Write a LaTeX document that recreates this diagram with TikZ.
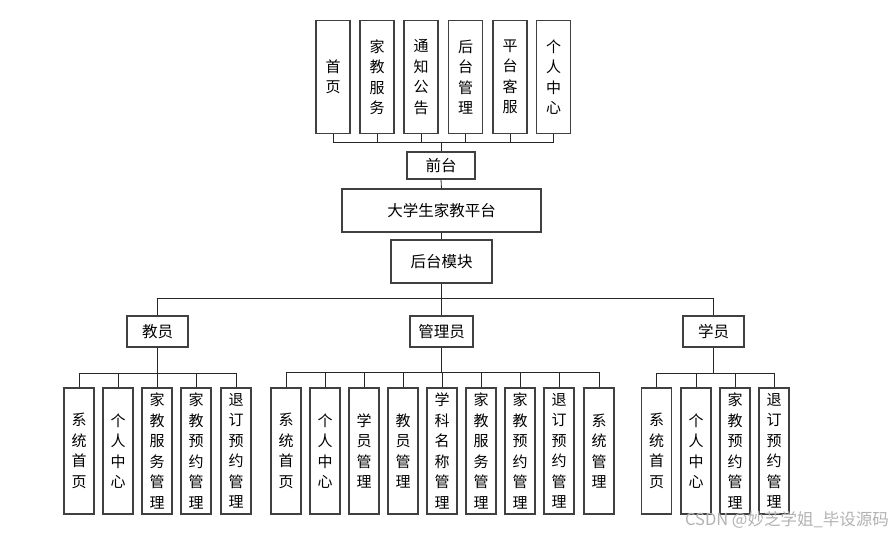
\documentclass[tikz,border=0pt]{standalone}
\usepackage{fontspec}
\setmainfont{Noto Sans CJK SC}
\begin{document}
\begin{tikzpicture}[x=1pt,y=-1pt,
  box/.style={draw=black!75,line width=1.1pt,fill=white,inner sep=0pt,align=center},
  vbox/.style={box,minimum width=30pt,minimum height=126pt,font=\fontsize{15}{20.5}\selectfont},
  tbox/.style={box,minimum width=34pt,minimum height=113pt,font=\fontsize{15}{20.5}\selectfont},
  hbox/.style={box,font=\fontsize{15.5}{18}\selectfont},
  conn/.style={draw=black!85,line width=0.8pt}]
\useasboundingbox (0,0) rectangle (893,535);
% top boxes
\node[tbox] (t1) at (333,77) {首\\页};
\node[tbox] (t2) at (377,77) {家\\教\\服\\务};
\node[tbox] (t3) at (421,77) {通\\知\\公\\告};
\node[tbox] (t4) at (465.5,77) {后\\台\\管\\理};
\node[tbox] (t5) at (510,77) {平\\台\\客\\服};
\node[tbox] (t6) at (553.5,77) {个\\人\\中\\心};
\node[hbox,minimum width=68pt,minimum height=27pt] (qt) at (441,165.5) {前台};
\node[hbox,minimum width=199pt,minimum height=43pt] (dx) at (441.5,210.5) {大学生家教平台};
\node[hbox,minimum width=101pt,minimum height=43pt] (hm) at (441.5,261.5) {后台模块};
% roles
\node[hbox,minimum width=61pt,minimum height=31pt] (jy) at (157.5,331.5) {教员};
\node[hbox,minimum width=63pt,minimum height=31pt] (gl) at (441.5,331.5) {管理员};
\node[hbox,minimum width=61pt,minimum height=31pt] (xy) at (713.5,331.5) {学员};
% teacher children
\node[vbox] (j1) at (79,451) {系\\统\\首\\页};
\node[vbox] (j2) at (118,451) {个\\人\\中\\心};
\node[vbox] (j3) at (157,451) {家\\教\\服\\务\\管\\理};
\node[vbox] (j4) at (196,451) {家\\教\\预\\约\\管\\理};
\node[vbox] (j5) at (236,451) {退\\订\\预\\约\\管\\理};
% admin children
\node[vbox] (g1) at (286,451) {系\\统\\首\\页};
\node[vbox] (g2) at (325,451) {个\\人\\中\\心};
\node[vbox] (g3) at (364,451) {学\\员\\管\\理};
\node[vbox] (g4) at (403,451) {教\\员\\管\\理};
\node[vbox] (g5) at (442,451) {学\\科\\名\\称\\管\\理};
\node[vbox] (g6) at (481,451) {家\\教\\服\\务\\管\\理};
\node[vbox] (g7) at (520,451) {家\\教\\预\\约\\管\\理};
\node[vbox] (g8) at (559,451) {退\\订\\预\\约\\管\\理};
\node[vbox] (g9) at (599,451) {系\\统\\管\\理};
% student children
\node[vbox] (s1) at (656.5,451) {系\\统\\首\\页};
\node[vbox] (s2) at (696,451) {个\\人\\中\\心};
\node[vbox] (s3) at (735,451) {家\\教\\预\\约\\管\\理};
\node[vbox] (s4) at (774,451) {退\\订\\预\\约\\管\\理};
% connectors
\foreach \n in {t1,t2,t3,t4,t5,t6}
  \draw[conn] (\n.south) -- ++(0,8) -| (qt.north);
\draw[conn] (qt.south) -- (dx.north);
\draw[conn] (dx.south) -- (hm.north);
\foreach \n in {jy,gl,xy}
  \draw[conn] (hm.south) -- ++(0,14.5) -| (\n.north);
\foreach \n in {j1,j2,j3,j4,j5}
  \draw[conn] (jy.south) -- ++(0,26) -| (\n.north);
\foreach \n in {g1,g2,g3,g4,g5,g6,g7,g8,g9}
  \draw[conn] (gl.south) -- ++(0,25) -| (\n.north);
\foreach \n in {s1,s2,s3,s4}
  \draw[conn] (xy.south) -- ++(0,26) -| (\n.north);
% watermark
\node[text=black!30,font=\fontsize{16.5}{18}\selectfont,anchor=east,inner sep=0pt] (wm) at (889,520) {CSDN @妙芝学姐\_毕设源码};
\end{tikzpicture}
\end{document}
